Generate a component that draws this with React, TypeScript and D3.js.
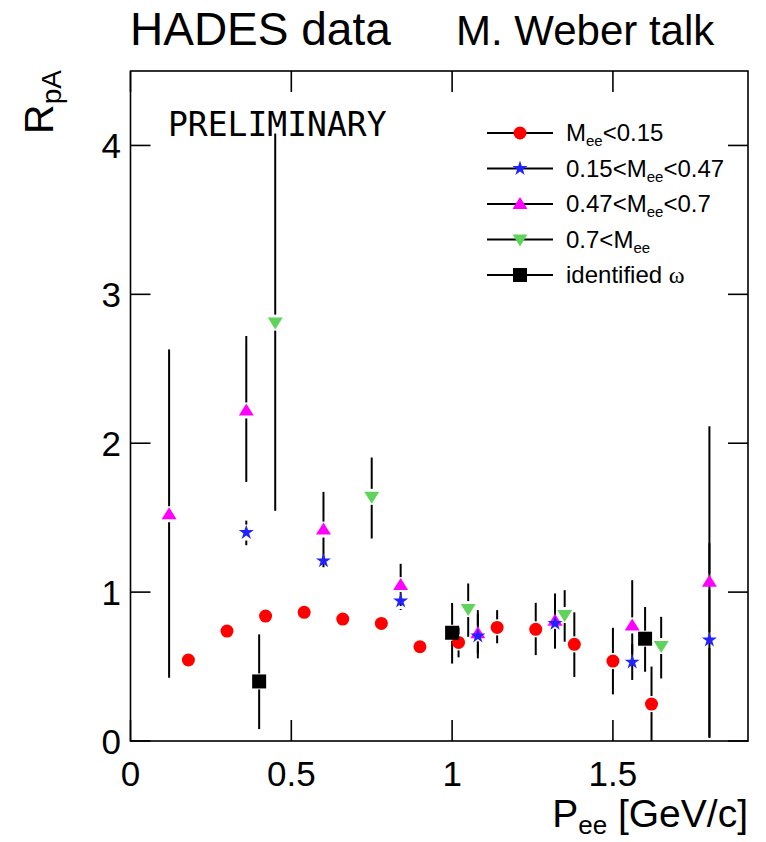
import React from "react";
import * as d3 from "d3";

// ---- Data ----
const redX = [0.18, 0.30, 0.42, 0.54, 0.66, 0.78, 0.90, 1.02, 1.14, 1.26, 1.38, 1.50, 1.62];
const redY = [0.544, 0.738, 0.839, 0.864, 0.819, 0.790, 0.633, 0.662, 0.763, 0.750, 0.649, 0.537, 0.248];
const redErrLow = [0.02, 0.02, 0.03, 0.03, 0.03, 0.03, 0.04, 0.10, 0.107, 0.173, 0.219, 0.224, 0.248];
const redErrHigh = [0.02, 0.02, 0.03, 0.03, 0.03, 0.03, 0.04, 0.10, 0.116, 0.178, 0.215, 0.223, 0.252];

const blueX = [0.36, 0.60, 0.84, 1.08, 1.32, 1.56, 1.80];
const blueY = [1.40, 1.21, 0.94, 0.705, 0.79, 0.53, 0.678];
const blueErrLow = [0.085, 0.05, 0.06, 0.15, 0.17, 0.12, 0.65];
const blueErrHigh = [0.08, 0.05, 0.06, 0.15, 0.17, 0.12, 0.65];

const magX = [0.12, 0.36, 0.60, 0.84, 1.08, 1.32, 1.56, 1.80];
const magY = [1.523, 2.22, 1.42, 1.047, 0.723, 0.807, 0.776, 1.07];
const magErrLow = [1.098, 0.48, 0.253, 0.14, 0.134, 0.174, 0.30, 1.05];
const magErrHigh = [1.107, 0.50, 0.253, 0.143, 0.156, 0.184, 0.304, 1.044];

const greenX = [0.45, 0.75, 1.05, 1.35, 1.65];
const greenY = [2.81, 1.64, 0.886, 0.846, 0.638];
const greenErrLow = [1.264, 0.28, 0.186, 0.179, 0.218];
const greenErrHigh = [1.27, 0.264, 0.172, 0.167, 0.196];

const omegaX = [0.40, 1.00, 1.60];
const omegaY = [0.40, 0.727, 0.687];
const omegaErrLow = [0.32, 0.207, 0.222];
const omegaErrHigh = [0.316, 0.20, 0.213];

const xTicks = [0, 0.5, 1, 1.5];
const xTickLabels = ["0", "0.5", "1", "1.5"];
const yTicks = [0, 1, 2, 3, 4];
const yTickLabels = ["0", "1", "2", "3", "4"];

const FONT = "'Liberation Sans', Arial, Helvetica, sans-serif";

type MarkerKind = "circle" | "star" | "up" | "down" | "square";

function Marker({ kind, cx, cy, color }: { kind: MarkerKind; cx: number; cy: number; color: string }) {
  const t = `translate(${cx},${cy})`;
  if (kind === "circle") return <circle cx={cx} cy={cy} r={6.5} fill={color} />;
  if (kind === "square") return <rect x={cx - 7} y={cy - 7} width={14} height={14} fill={color} />;
  if (kind === "up") return <path transform={t} d="M0,-7L7.5,5L-7.5,5Z" fill={color} />;
  if (kind === "down") return <path transform={t} d="M0,7L7.5,-5L-7.5,-5Z" fill={color} />;
  const star = d3.symbol().type(d3.symbolStar).size(70)()!;
  return <path transform={t} d={star} fill={color} />;
}

const W = 766;
const H = 842;
const left = 130.5;
const right = 748;
const top = 71;
const bottom = 741;

export default function App() {
  const x = d3.scaleLinear().domain([0, 1.92]).range([left, right]);
  const y = d3.scaleLinear().domain([0, 4.5]).range([bottom, top]);

  const series: { kind: MarkerKind; color: string; xs: number[]; ys: number[]; lo: number[]; hi: number[] }[] = [
    { kind: "circle", color: "#ff0000", xs: redX, ys: redY, lo: redErrLow, hi: redErrHigh },
    { kind: "up", color: "#ff00ff", xs: magX, ys: magY, lo: magErrLow, hi: magErrHigh },
    { kind: "star", color: "#2222ff", xs: blueX, ys: blueY, lo: blueErrLow, hi: blueErrHigh },
    { kind: "down", color: "#5fd35a", xs: greenX, ys: greenY, lo: greenErrLow, hi: greenErrHigh },
    { kind: "square", color: "#000000", xs: omegaX, ys: omegaY, lo: omegaErrLow, hi: omegaErrHigh },
  ];

  const gap = 8;
  const tickLen = 21;

  const sub = 15;
  const legendItems: { kind: MarkerKind; color: string; label: React.ReactNode }[] = [
    { kind: "circle", color: "#ff0000", label: (<>M<tspan fontSize={sub} dy={5}>ee</tspan><tspan dy={-5}>&lt;0.15</tspan></>) },
    { kind: "star", color: "#2222ff", label: (<>0.15&lt;M<tspan fontSize={sub} dy={5}>ee</tspan><tspan dy={-5}>&lt;0.47</tspan></>) },
    { kind: "up", color: "#ff00ff", label: (<>0.47&lt;M<tspan fontSize={sub} dy={5}>ee</tspan><tspan dy={-5}>&lt;0.7</tspan></>) },
    { kind: "down", color: "#5fd35a", label: (<>0.7&lt;M<tspan fontSize={sub} dy={5}>ee</tspan></>) },
    { kind: "square", color: "#000000", label: (<>identified <tspan fontFamily="'Liberation Serif', 'DejaVu Serif', serif">ω</tspan></>) },
  ];
  const legendY0 = 133;
  const legendStep = 35.5;

  return (
    <svg width={W} height={H} style={{ display: "block", position: "absolute", left: 0, top: 0, background: "#fff" }} fontFamily={FONT}>
      <rect x={0} y={0} width={W} height={H} fill="#fff" />
      {/* Titles */}
      <text x={130} y={45} fontSize={46}>HADES data</text>
      <text x={456} y={45} fontSize={42}>M. Weber talk</text>

      {/* Frame */}
      <rect x={left} y={top} width={right - left} height={bottom - top} fill="none" stroke="#000" strokeWidth={1.6} />

      {/* X ticks */}
      {xTicks.map((t, i) => (
        <g key={"xt" + i}>
          <line x1={x(t)} x2={x(t)} y1={bottom} y2={bottom - tickLen} stroke="#000" strokeWidth={1.6} />
          <line x1={x(t)} x2={x(t)} y1={top} y2={top + tickLen} stroke="#000" strokeWidth={1.6} />
          <text x={x(t)} y={786} fontSize={35} textAnchor="middle">{xTickLabels[i]}</text>
        </g>
      ))}
      {/* Y ticks */}
      {yTicks.map((t, i) => (
        <g key={"yt" + i}>
          <line x1={left} x2={left + 20} y1={y(t)} y2={y(t)} stroke="#000" strokeWidth={1.6} />
          <line x1={right} x2={right - 20} y1={y(t)} y2={y(t)} stroke="#000" strokeWidth={1.6} />
          <text x={121} y={y(t) + 13} fontSize={35} textAnchor="end">{yTickLabels[i]}</text>
        </g>
      ))}

      {/* Axis titles */}
      <text x={748} y={827} fontSize={39} textAnchor="end">
        P<tspan fontSize={26} dy={7}>ee</tspan><tspan dy={-7}> [GeV/c]</tspan>
      </text>
      <text transform="translate(53,102) rotate(-90)" fontSize={41} textAnchor="middle">
        R<tspan fontSize={28} dy={8}>pA</tspan>
      </text>

      {/* PRELIMINARY */}
      <text x={168} y={136} fontSize={33} fontFamily="'DejaVu Sans Mono', monospace">PRELIMINARY</text>

      {/* Error bars */}
      {series.map((s, si) => (
        <g key={"e" + si} stroke="#000" strokeWidth={2}>
          {s.xs.map((xv, i) => {
            const cx = x(xv);
            const cy = y(s.ys[i]);
            const yl = y(s.ys[i] - s.lo[i]);
            const yh = y(s.ys[i] + s.hi[i]);
            return (
              <g key={i}>
                {yl > cy + gap && <line x1={cx} x2={cx} y1={cy + gap} y2={yl} />}
                {yh < cy - gap && <line x1={cx} x2={cx} y1={cy - gap} y2={yh} />}
              </g>
            );
          })}
        </g>
      ))}
      {/* Markers */}
      {series.map((s, si) => (
        <g key={"m" + si}>
          {s.xs.map((xv, i) => (
            <Marker key={i} kind={s.kind} cx={x(xv)} cy={y(s.ys[i])} color={s.color} />
          ))}
        </g>
      ))}

      {/* Legend */}
      {legendItems.map((it, i) => {
        const ly = legendY0 + i * legendStep;
        return (
          <g key={"lg" + i}>
            <line x1={487} x2={553} y1={ly} y2={ly} stroke="#000" strokeWidth={2} />
            <Marker kind={it.kind} cx={520} cy={ly} color={it.color} />
            <text x={566} y={ly + 8} fontSize={24}>{it.label}</text>
          </g>
        );
      })}
    </svg>
  );
}
